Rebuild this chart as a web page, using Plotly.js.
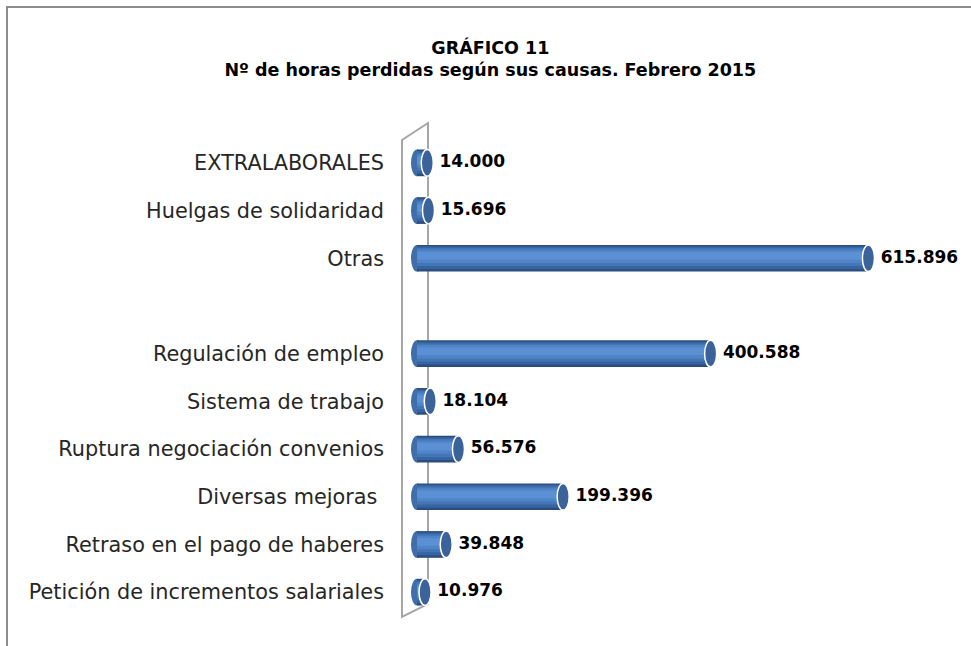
<!DOCTYPE html>
<html>
<head>
<meta charset="utf-8">
<script src="https://cdn.plot.ly/plotly-3.0.1.min.js"></script>
<style>
  html, body { margin: 0; padding: 0; background: #ffffff; }
  #wrap { position: relative; width: 971px; height: 646px; overflow: hidden; }
  #chart { width: 971px; height: 646px; }
  #frame { position: absolute; left: 6px; top: 6px; width: 1000px; height: 700px;
           border-left: 2px solid #8c8c8c; border-top: 2px solid #8c8c8c; pointer-events: none; }
</style>
</head>
<body>
<div id="wrap">
  <div id="chart"></div>
  <div id="frame"></div>
</div>
<script>
// Categories listed top to bottom (a blank slot separates "Otras" from the rest)
const categories = [
  "EXTRALABORALES",
  "Huelgas de solidaridad",
  "Otras",
  " ",
  "Regulación de empleo",
  "Sistema de trabajo",
  "Ruptura negociación convenios",
  "Diversas mejoras ",
  "Retraso en el pago de haberes",
  "Petición de incrementos salariales"
];
const horas = [14000, 15696, 615896, null, 400588, 18104, 56576, 199396, 39848, 10976];

const titleText = "GRÁFICO 11<br>Nº de horas perdidas según sus causas. Febrero 2015";

// ---- styling ----
const capHalf = 8200;      // half-width of the cylinder end cap, in x units
const barW = 0.56;

function layerBar(width, offset, color) {
  return {
    type: "bar", orientation: "h",
    y: categories, x: horas,
    width: categories.map(() => width),
    offset: categories.map(() => offset),
    marker: { color: color, line: { width: 0 } },
    hoverinfo: "skip", showlegend: false
  };
}

const traces = [
  layerBar(barW, -barW / 2, "#2b4d7c"),
  layerBar(0.48, -0.25, "#3763a0"),
  layerBar(0.38, -0.215, "#4475b6"),
  layerBar(0.28, -0.18, "#4f84c7"),
  layerBar(0.16, -0.13, "#5b91d4"),
  {
    type: "scatter", mode: "markers+text",
    y: categories, x: horas,
    marker: { size: 18, opacity: 0 },
    texttemplate: horas.map(v => v === null ? "" : "%{x:,.0f}"),
    textposition: "middle right",
    textfont: { family: "DejaVu Sans", size: 17, color: "#000000", weight: "bold" },
    hoverinfo: "skip", showlegend: false, cliponaxis: false
  }
];

const shapes = [];
// 3D wall outline (paper coords)
shapes.push({
  type: "path", xref: "paper", yref: "paper", layer: "below",
  path: "M -0.0054 0.9979 L 0.0414 1.0335 L 0.0414 0.0252 L -0.0054 -0.0021 Z",
  line: { color: "#a6a6a6", width: 2 }, fillcolor: "rgba(0,0,0,0)"
});
horas.forEach((v, i) => {
  if (v === null) return;
  // rounded start of cylinder
  shapes.push({
    type: "circle", xref: "x", yref: "y", layer: "below",
    x0: -capHalf, x1: capHalf, y0: i - barW / 2, y1: i + barW / 2,
    fillcolor: "#3f6ea9", line: { width: 0 }
  });
  // end cap of cylinder
  shapes.push({
    type: "circle", xref: "x", yref: "y", layer: "above",
    x0: v - capHalf, x1: v + capHalf, y0: i - barW / 2, y1: i + barW / 2,
    fillcolor: "#3b6399", line: { color: "#ffffff", width: 1.5 }
  });
});

const layout = {
  width: 971, height: 646,
  paper_bgcolor: "#ffffff", plot_bgcolor: "rgba(0,0,0,0)",
  margin: { l: 405, r: 10, t: 139, b: 30 },
  separators: ",.",
  barmode: "overlay",
  title: {
    text: titleText,
    x: 0.505, xanchor: "center", xref: "container",
    y: 0.917, yanchor: "middle", yref: "container",
    font: { family: "DejaVu Sans", size: 17.5, color: "#000000", weight: "bold", lineposition: "none" }
  },
  xaxis: {
    range: [-16370, 742155], visible: false, fixedrange: true
  },
  yaxis: {
    type: "category", range: [categories.length - 0.5, -0.5], autorange: false,
    categoryorder: "array", categoryarray: categories,
    showgrid: false, zeroline: false, showline: false,
    ticks: "", ticklen: 0, ticklabelstandoff: 20,
    tickfont: { family: "DejaVu Sans", size: 20.8, color: "#262626" },
    automargin: false, fixedrange: true
  },
  shapes: shapes,
  showlegend: false
};

Plotly.newPlot("chart", traces, layout, { displayModeBar: false, staticPlot: true });
</script>
</body>
</html>
